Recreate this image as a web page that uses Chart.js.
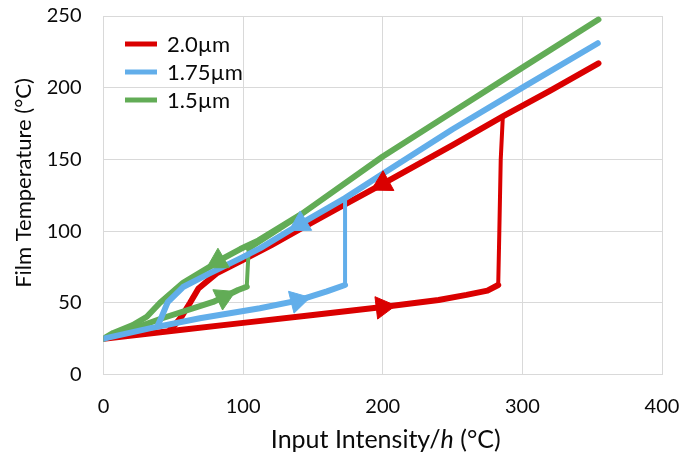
<!DOCTYPE html>
<html>
<head>
<meta charset="utf-8">
<script src="https://cdn.jsdelivr.net/npm/chart.js@4.4.1/dist/chart.umd.min.js"></script>
<style>
  html, body { margin: 0; padding: 0; background: #fff; }
  #wrap { width: 683px; height: 457px; }
</style>
</head>
<body>
<div id="wrap"><canvas id="chart"></canvas></div>
<script>
// hysteresis paths: heating along the lower branch, jump, then cooling back down the upper branch
const red_x = [0, 50, 100, 150, 200, 240, 260, 275, 282.7, 283.5, 284.5, 286, 320, 354.5, 320, 286, 250, 200, 170, 142, 120, 100, 81, 68, 62, 56, 51, 48];
const red_y = [25, 30.5, 36, 41.5, 47, 52, 55.5, 58.5, 62.4, 100, 150, 180, 198, 217, 198, 180, 160, 133, 117, 102, 90, 80, 70.5, 60, 50, 40.5, 34.5, 32];
const red_arrows = [4, 17];

const blue_x = [0, 33, 69, 112, 139, 160, 173, 173, 200, 250, 300, 354, 300, 250, 200, 173, 141, 112, 98, 76, 57, 46, 41.7, 39];
const blue_y = [25, 32.2, 39.2, 46.2, 51.5, 58, 62.4, 123, 140, 171, 200, 231, 200, 171, 140, 123, 105, 88, 81, 70.5, 61, 50.5, 40.3, 34.5];
const blue_arrows = [4, 16];

const green_x = [0, 20, 42.6, 78.5, 86, 96.4, 102.6, 104, 142, 200, 250, 300, 354.5, 300, 250, 200, 142, 111, 98, 82, 76, 57, 40.5, 31, 21, 7, 0];
const green_y = [25, 31.5, 39.4, 50.6, 54, 58.9, 61.2, 88, 112, 152, 183, 214, 247.5, 214, 183, 152, 112, 93.5, 87.5, 79, 75, 64, 50, 40.3, 34.5, 29, 25];
const green_arrows = [4, 19];

const series_names = ['2.0µm', '1.75µm', '1.5µm'];
const x_ticks = [0, 100, 200, 300, 400];
const y_ticks = [0, 50, 100, 150, 200, 250];

const RED = '#DA0000';
const BLUE = '#62AEEA';
const GREEN = '#62AC56';
const FONT = "Lato, 'DejaVu Sans', sans-serif";
const TEXT = '#0a0a0a';

function toPoints(xs, ys) {
  return xs.map((x, i) => ({ x: x, y: ys[i] }));
}

function lineSet(name, xs, ys, color, order) {
  return {
    label: name,
    data: toPoints(xs, ys),
    showLine: true,
    borderColor: color,
    backgroundColor: color,
    borderWidth: 6,
    borderCapStyle: 'round',
    borderJoinStyle: 'round',
    pointRadius: 0,
    pointHoverRadius: 0,
    tension: 0,
    order: order,
    segment: {
      // the vertical jumps are drawn thinner
      borderWidth: ctx => Math.abs(ctx.p1.x - ctx.p0.x) < 0.3 * Math.abs(ctx.p1.y - ctx.p0.y) ? 4 : 6
    }
  };
}

// arrow heads sit on path points and point along the path direction
function arrowSet(xs, ys, idx, color) {
  return {
    label: '',
    data: idx.map(i => ({ x: xs[i], y: ys[i], i: i })),
    showLine: false,
    pointStyle: 'triangle',
    pointRadius: 13,
    pointHoverRadius: 13,
    pointBorderWidth: 1,
    pointBackgroundColor: color,
    pointBorderColor: color,
    order: 0,
    rotation: ctx => {
      const raw = ctx.raw;
      if (!raw) return 0;
      const sx = ctx.chart.scales.x, sy = ctx.chart.scales.y;
      const a = Math.max(raw.i - 1, 0), b = Math.min(raw.i + 1, xs.length - 1);
      const dx = sx.getPixelForValue(xs[b]) - sx.getPixelForValue(xs[a]);
      const dy = sy.getPixelForValue(ys[b]) - sy.getPixelForValue(ys[a]);
      return Math.atan2(dx, -dy) * 180 / Math.PI;
    }
  };
}

const insideLegend = {
  id: 'insideLegend',
  afterDraw(chart) {
    const { ctx, chartArea } = chart;
    const items = [[series_names[0], RED], [series_names[1], BLUE], [series_names[2], GREEN]];
    ctx.save();
    ctx.font = '22px ' + FONT;
    ctx.textBaseline = 'middle';
    items.forEach((it, k) => {
      const y = chartArea.top + 28 + k * 28;
      const x = chartArea.left + 21.5;
      ctx.strokeStyle = it[1];
      ctx.lineWidth = 5;
      ctx.beginPath();
      ctx.moveTo(x, y);
      ctx.lineTo(x + 32, y);
      ctx.stroke();
      ctx.fillStyle = TEXT;
      ctx.fillText(it[0], x + 42, y + 1);
    });
    ctx.restore();
  }
};

const axisTitles = {
  id: 'axisTitles',
  afterDraw(chart) {
    const { ctx, chartArea } = chart;
    ctx.save();
    ctx.fillStyle = TEXT;
    ctx.textBaseline = 'middle';
    // x title, with the h in italics
    const parts = [['Input Intensity/', ''], ['h', 'italic '], [' (°C)', '']];
    let total = 0;
    parts.forEach(p => { ctx.font = p[1] + '25px ' + FONT; total += ctx.measureText(p[0]).width; });
    let x = (chartArea.left + chartArea.right) / 2 - total / 2 + 3;
    parts.forEach(p => {
      ctx.font = p[1] + '25px ' + FONT;
      ctx.fillText(p[0], x, 440);
      x += ctx.measureText(p[0]).width;
    });
    // y title
    ctx.translate(24, 183);
    ctx.rotate(-Math.PI / 2);
    ctx.font = '22px ' + FONT;
    ctx.textAlign = 'center';
    ctx.fillText('Film Temperature (°C)', 0, 0);
    ctx.restore();
  }
};

new Chart(document.getElementById('chart'), {
  type: 'scatter',
  data: {
    datasets: [
      lineSet(series_names[0], red_x, red_y, RED, 3),
      lineSet(series_names[1], blue_x, blue_y, BLUE, 1),
      lineSet(series_names[2], green_x, green_y, GREEN, 2),
      arrowSet(red_x, red_y, red_arrows, RED),
      arrowSet(blue_x, blue_y, blue_arrows, BLUE),
      arrowSet(green_x, green_y, green_arrows, GREEN)
    ]
  },
  options: {
    responsive: true,
    maintainAspectRatio: false,
    animation: false,
    layout: { padding: { left: 0, right: 21, top: 16, bottom: 0 } },
    plugins: {
      legend: { display: false },
      tooltip: { enabled: false }
    },
    scales: {
      x: {
        type: 'linear',
        min: 0,
        max: 400,
        afterBuildTicks: s => { s.ticks = x_ticks.map(v => ({ value: v })); },
        afterFit: s => { s.height = 82.5; },
        grid: { color: '#d9d9d9', drawTicks: true, tickLength: 19, tickColor: 'rgba(0,0,0,0)' },
        border: { color: '#d9d9d9' },
        ticks: { padding: 1, color: TEXT, font: { family: FONT, size: 20 } }
      },
      y: {
        type: 'linear',
        min: 0,
        max: 250,
        afterBuildTicks: s => { s.ticks = y_ticks.map(v => ({ value: v })); },
        afterFit: s => { s.width = 103.5; },
        grid: { color: '#d9d9d9', drawTicks: true, tickLength: 20, tickColor: 'rgba(0,0,0,0)' },
        border: { color: '#d9d9d9' },
        ticks: { padding: 2, color: TEXT, font: { family: FONT, size: 20 } }
      }
    }
  },
  plugins: [insideLegend, axisTitles]
});
</script>
</body>
</html>
